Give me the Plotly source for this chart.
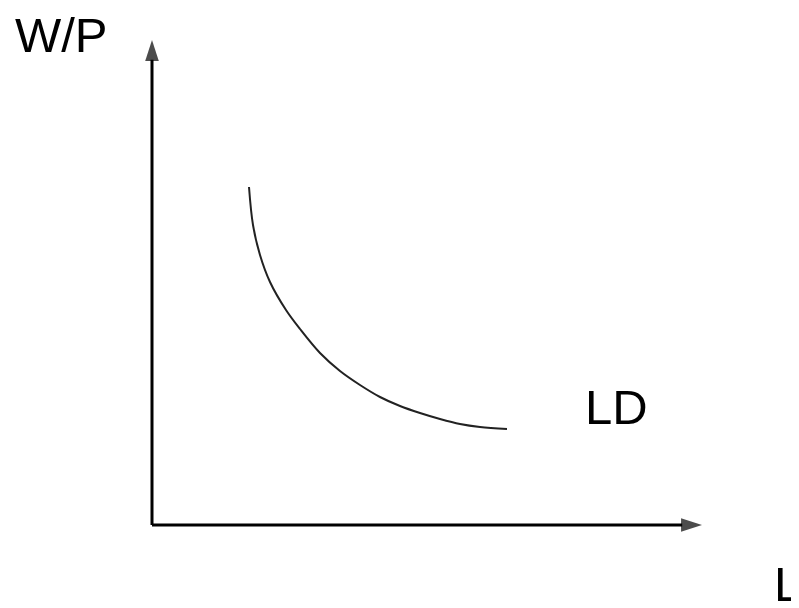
import plotly.graph_objects as go

# labour demand curve (L, W/P), origin at the axes corner
ld_l = [97, 101, 108, 118, 134, 148, 168, 188, 208, 228, 248, 268, 288, 308, 328, 355]
ld_wp = [338, 300, 270, 243, 215, 196, 172, 154, 140, 128, 119, 112, 106, 101, 98, 96]

# axis lengths
x_axis_end = 550
y_axis_end = 485

labels = ["W/P", "L", "LD"]
label_x = [-139, 620, 431]
label_y = [490, -59, 118]

FONT = "Liberation Sans, Arial, Helvetica, sans-serif"

fig = go.Figure()

# axes with arrow tips
for ax_x, ax_y in [([0, 0], [0, y_axis_end]), ([0, x_axis_end], [0, 0])]:
    fig.add_trace(go.Scatter(
        x=ax_x, y=ax_y, mode="lines+markers",
        line=dict(color="black", width=3),
        marker=dict(symbol="arrow", size=[0, 22], angleref="previous",
                    color="black", line=dict(width=0)),
        hoverinfo="skip"))

fig.add_trace(go.Scatter(
    x=ld_l, y=ld_wp, mode="lines",
    line=dict(color="#222222", width=2, shape="spline", smoothing=1.0),
    hoverinfo="skip"))

for t, x, y in zip(labels, label_x, label_y):
    fig.add_annotation(x=x, y=y, text=t, showarrow=False,
                       xanchor="left", yanchor="middle",
                       font=dict(family=FONT, size=49, color="black"))

# ranges shifted by the 8px page margin
fig.update_layout(
    width=799, height=608,
    margin=dict(l=0, r=0, t=0, b=0),
    paper_bgcolor="white", plot_bgcolor="white",
    showlegend=False,
    xaxis=dict(range=[-144, 655], visible=False, fixedrange=True),
    yaxis=dict(range=[-91, 517], visible=False, fixedrange=True),
)

fig.write_html("out.html")
